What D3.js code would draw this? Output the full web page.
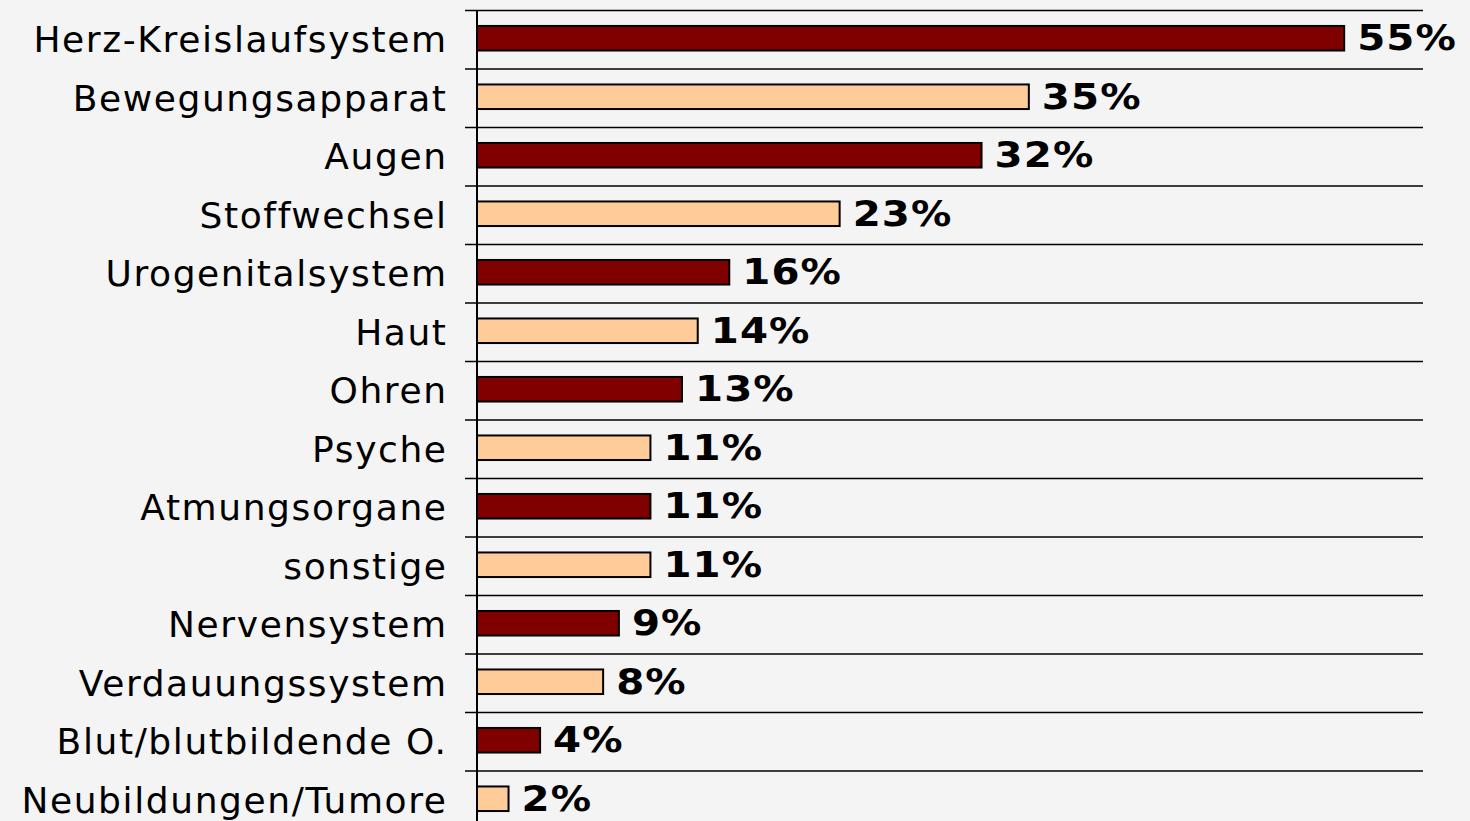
<!DOCTYPE html>
<html>
<head>
<meta charset="utf-8">
<script src="https://cdn.jsdelivr.net/npm/d3@7"></script>
<style>
  body { margin: 0; background: #f4f4f4; }
  svg { display: block; }
  .cat { font-family: "DejaVu Sans", Verdana, sans-serif; font-size: 36px; letter-spacing: 1.6px; fill: #000; }
  .val { font-family: "DejaVu Sans", Verdana, sans-serif; font-size: 36px; font-weight: bold; letter-spacing: 1px; fill: #000; }
</style>
</head>
<body>
<div id="chart"></div>
<script>
var categories = ["Herz-Kreislaufsystem", "Bewegungsapparat", "Augen", "Stoffwechsel",
  "Urogenitalsystem", "Haut", "Ohren", "Psyche", "Atmungsorgane", "sonstige",
  "Nervensystem", "Verdauungssystem", "Blut/blutbildende O.", "Neubildungen/Tumore"];
var values = [55, 35, 32, 23, 16, 14, 13, 11, 11, 11, 9, 8, 4, 2];
var colors = ["#800000", "#ffcc99"];

var width = 1470, height = 821;
var margin = { top: 10, left: 477, right: 47 };

var svg = d3.select("#chart").append("svg")
  .attr("width", width)
  .attr("height", height);

var x = d3.scaleLinear().domain([0, 60]).range([margin.left, width - margin.right]);
var y = d3.scaleBand().domain(categories).range([margin.top, margin.top + categories.length * 58.5]);

var barH = y.bandwidth() * 0.42;

// horizontal separators
var lines = svg.append("g");
categories.forEach(function(c) {
  lines.append("line")
    .attr("x1", margin.left - 12)
    .attr("x2", x(60))
    .attr("y1", y(c) + 0.5)
    .attr("y2", y(c) + 0.5)
    .attr("stroke", "#000")
    .attr("stroke-width", 1.5);
});

// bars
svg.selectAll(".bar")
  .data(values)
  .enter().append("rect")
  .attr("class", "bar")
  .attr("x", x(0))
  .attr("y", function(d, i) { return y(categories[i]) + y.bandwidth() / 2 - barH / 2 - 1; })
  .attr("width", function(d) { return x(d) - x(0); })
  .attr("height", barH)
  .attr("fill", function(d, i) { return colors[i % 2]; })
  .attr("stroke", "#000")
  .attr("stroke-width", 2);

// axis line
svg.append("line")
  .attr("x1", x(0)).attr("x2", x(0))
  .attr("y1", margin.top).attr("y2", height)
  .attr("stroke", "#000")
  .attr("stroke-width", 2);

// category labels
svg.selectAll(".cat")
  .data(categories)
  .enter().append("text")
  .attr("class", "cat")
  .attr("x", 447.6)
  .attr("y", function(d) { return y(d) + y.bandwidth() / 2; })
  .attr("dy", "0.36em")
  .attr("text-anchor", "end")
  .text(function(d) { return d; });

// value labels (stretched a bit to mimic the wide bold face)
svg.selectAll(".val")
  .data(values)
  .enter().append("text")
  .attr("class", "val")
  .attr("transform", function(d, i) {
    return "translate(" + (x(d) + 13) + "," + (y(categories[i]) + y.bandwidth() / 2 - 2) + ") scale(1.12,1)";
  })
  .attr("dy", "0.36em")
  .text(function(d) { return d + "%"; });
</script>
</body>
</html>
